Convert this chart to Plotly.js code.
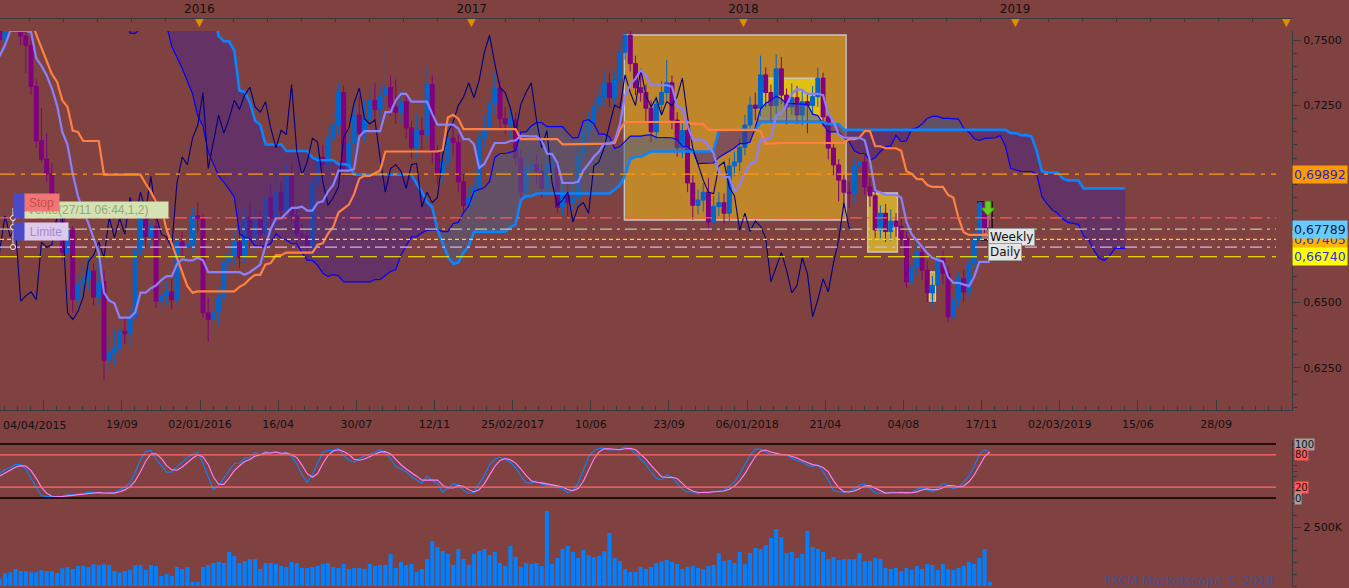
<!DOCTYPE html>
<html><head><meta charset="utf-8">
<script src="https://cdn.plot.ly/plotly-3.0.1.min.js"></script>
<style>html,body{margin:0;padding:0;background:#804141;}#chart{width:1349px;height:588px;}</style>
</head><body><div id="chart"></div>
<script>
// ---------- DATA (weekly NZD/USD candles, first week centre 2014-03-12) ----------
const firstWeek = '2014-03-12';
const openP = [
.845,.850,.856,.864,.868,.862,.860,.857,.859,.862,.865,.870,.856,.848,.852,.862,.870,.876,.880,.877,
.874,.853,.846,.849,.843,.835,.837,.829,.815,.812,.786,.780,.785,.794,.790,.779,.768,.784,.790,.786,
.780,.773,.778,.784,.779,.778,.781,.744,.727,.736,.742,.750,.752,.757,.737,.745,
.762,.750,.757,.766,.760,.7515,.748,.7323,.7116,.7046,
.699,.6881,.683,.669,.6775,.651,.657,.659,.662,.652,
.658,.628,.631,.6325,.639,.638,.6445,.670,.683,.675,
.679,.6505,.6525,.654,.651,.673,.671,.672,.683,.682,
.646,.6435,.6465,.652,.6655,.668,.673,.667,.6825,.6745,
.682,.676,.690,.682,.692,.685,.698,.683,.676,.675,
.671,.6955,.7054,.7025,.7126,.7176,.730,.701,.7107,.7214,
.7145,.720,.727,.7235,.729,.732,.7245,.7225,.7265,.7165,
.709,.7155,.714,.733,.7075,.6985,.7035,.7126,.711,.696,
.687,.690,.694,.713,.7165,.726,.7317,.720,.718,.7195,
.705,.692,.701,.7025,.700,.6935,.7025,.703,.6863,.692,
.688,.690,.706,.715,.7187,.725,.7283,.7336,.728,.7347,
.7453,.7518,.741,.7318,.730,.724,.715,.7255,.730,.7337,
.7195,.709,.7155,.6955,.687,.689,.692,.6806,.6865,.688,
.684,.702,.7035,.709,.7176,.7252,.724,.7367,.730,.725,
.739,.729,.7245,.728,.7214,.7265,.725,.7284,.7355,.7207,
.7088,.7024,.6966,.692,.6915,.702,.7035,.694,.6906,.6776,
.684,.677,.681,.679,.6745,.6578,.6635,.669,.6623,.6536,
.6565,.667,.661,.6445,.651,.659,.654,.665,.6738,.6879,.6784];
const highP = [
.853,.859,.867,.873,.871,.866,.864,.863,.866,.869,.874,.873,.859,.856,.866,.874,.880,.884,.884,.881,
.877,.857,.853,.853,.846,.841,.840,.832,.818,.815,.790,.789,.798,.800,.793,.782,.788,.794,.795,.790,
.783,.782,.788,.788,.783,.785,.784,.748,.741,.746,.754,.757,.762,.760,.750,.766,
.766,.760,.777,.770,.764,.756,.752,.735,.724,.7145,
.703,.692,.687,.681,.679,.661,.665,.667,.665,.668,
.662,.637,.640,.642,.644,.648,.672,.687,.686,.684,
.682,.657,.658,.659,.675,.677,.676,.686,.688,.684,
.652,.651,.656,.669,.672,.677,.678,.686,.688,.686,
.685,.694,.695,.701,.696,.703,.7025,.686,.680,.679,
.698,.709,.710,.7175,.7226,.7335,.7325,.7145,.7262,.7285,
.727,.7335,.7335,.733,.748,.7365,.735,.731,.729,.719,
.722,.7205,.7405,.7365,.710,.708,.718,.7185,.714,.699,
.694,.698,.716,.7215,.7295,.7375,.7345,.7245,.724,.7225,
.708,.7055,.7075,.7065,.703,.7065,.708,.706,.6955,.6955,
.694,.709,.7175,.7225,.728,.732,.738,.7375,.7385,.7485,
.7545,.7535,.744,.7375,.733,.727,.7285,.7345,.7425,.7365,
.7225,.7185,.7185,.6985,.693,.6955,.6975,.6905,.692,.6915,
.705,.7075,.7125,.7215,.7285,.730,.744,.7395,.733,.7445,
.7435,.7315,.7335,.7325,.7305,.7295,.7325,.7395,.7375,.722,
.711,.7045,.699,.696,.705,.709,.706,.6975,.6925,.687,
.6875,.6855,.684,.6825,.677,.6665,.6725,.6715,.6655,.660,
.670,.6695,.664,.654,.6615,.6625,.668,.677,.6885,.6885,.6815];
const lowP = [
.842,.847,.853,.860,.858,.855,.852,.853,.855,.858,.861,.852,.844,.844,.849,.859,.866,.872,.872,.869,
.850,.842,.842,.839,.831,.830,.825,.811,.806,.782,.776,.774,.781,.785,.775,.764,.765,.780,.782,.776,
.769,.768,.774,.775,.771,.773,.740,.723,.722,.731,.738,.745,.748,.730,.731,.742,
.747,.746,.754,.754,.748,.7374,.729,.709,.7033,.696,
.686,.680,.666,.664,.646,.648,.652,.655,.649,.649,
.6204,.6238,.626,.630,.634,.633,.642,.668,.671,.671,
.648,.646,.649,.6475,.649,.667,.666,.669,.677,.644,
.635,.638,.641,.649,.661,.664,.663,.665,.671,.669,
.672,.673,.678,.679,.681,.683,.680,.672,.670,.667,
.668,.693,.698,.700,.7095,.714,.698,.697,.706,.711,
.711,.717,.7195,.719,.725,.721,.718,.718,.7125,.705,
.705,.708,.711,.703,.695,.695,.700,.706,.692,.684,
.6855,.686,.6915,.709,.713,.722,.7165,.714,.713,.702,
.6895,.689,.696,.695,.690,.690,.698,.684,.683,.683,
.6845,.687,.703,.7115,.716,.7225,.725,.7245,.7245,.732,
.7425,.738,.729,.7265,.7185,.711,.712,.722,.727,.716,
.7055,.705,.692,.6815,.6835,.6845,.677,.677,.683,.680,
.681,.698,.700,.706,.7145,.7195,.721,.7245,.7185,.7215,
.7255,.718,.7215,.718,.7175,.7145,.7215,.7245,.717,.7045,
.6985,.6885,.686,.686,.6875,.6985,.691,.6865,.6745,.6745,
.673,.6735,.675,.671,.6555,.6545,.660,.6585,.650,.6485,
.6535,.657,.6424,.643,.648,.6505,.651,.6625,.672,.6765,.6765];
const closeP = [
.850,.856,.864,.868,.862,.860,.857,.859,.862,.865,.870,.856,.848,.852,.862,.870,.876,.880,.877,.874,
.853,.846,.849,.843,.835,.837,.829,.815,.812,.786,.780,.785,.794,.790,.779,.768,.784,.790,.786,.780,
.773,.778,.784,.779,.778,.781,.744,.727,.736,.742,.750,.752,.757,.737,.745,.762,
.750,.757,.766,.760,.7515,.748,.7323,.7116,.7046,.699,
.6881,.683,.669,.6775,.651,.657,.659,.662,.652,.658,
.628,.631,.6325,.639,.638,.6445,.670,.683,.675,.679,
.6505,.6525,.654,.651,.673,.671,.672,.683,.682,.646,
.6435,.6465,.652,.6655,.668,.673,.667,.6825,.6745,.682,
.676,.690,.682,.692,.685,.698,.683,.676,.675,.671,
.6955,.7054,.7025,.7126,.7176,.730,.701,.7107,.7214,.7145,
.720,.727,.7235,.729,.732,.7245,.7225,.7265,.7165,.709,
.7155,.714,.733,.7075,.6985,.7035,.7126,.711,.696,.687,
.690,.694,.713,.7165,.726,.7317,.720,.718,.7195,.705,
.692,.701,.7025,.700,.6935,.7025,.703,.6863,.692,.688,
.690,.706,.715,.7187,.725,.7283,.7336,.728,.7347,.7453,
.7518,.741,.7318,.730,.724,.715,.7255,.730,.7337,.7195,
.709,.7155,.6955,.687,.689,.692,.6806,.6865,.688,.684,
.702,.7035,.709,.7176,.7252,.724,.7367,.730,.725,.739,
.729,.7245,.728,.7214,.7265,.725,.7284,.7355,.7207,.7088,
.7024,.6966,.692,.6915,.702,.7035,.694,.6906,.6776,.684,
.677,.681,.679,.6745,.6578,.6635,.669,.6623,.6536,.6565,
.667,.661,.6445,.651,.659,.654,.665,.6738,.6879,.6784,.67789];
// weekly volume (thousands) from the week of 2015-04-08 onwards
const volumeK = [
326,538,581,721,636,636,581,581,664,636,
636,551,749,806,721,848,848,806,919,890,
919,890,636,581,636,678,890,890,678,890,
848,424,509,424,806,721,806,170,170,806,
890,975,1018,975,1442,1272,975,1060,1145,1145,
721,975,975,933,848,806,1018,975,763,763,
806,848,933,975,806,763,933,721,763,763,
721,933,848,890,890,1357,763,1018,890,933,
594,721,1145,1908,1654,1484,1357,890,1569,1145,
890,1357,1484,1569,1314,1442,975,848,1696,1230,
806,975,933,975,848,3180,933,1187,1569,1696,
1442,1187,1526,1314,1230,1272,1484,2247,1187,1060,
721,594,594,806,721,806,975,1060,1102,1018,
933,721,806,848,763,721,848,890,1399,1060,
1102,975,1442,933,1399,1611,1569,1738,2035,2417,
2078,1399,1442,1187,1357,2332,1654,1569,1442,1145,
1230,1102,1145,1145,1145,1399,1060,1060,1187,1145,
763,721,763,636,763,678,848,721,933,890,
678,933,721,678,763,848,1018,933,1187,1569,170];
const volumeStartIndex = 56;
// axis labels
const tickDates = ['2015-06-06','2015-09-19','2016-01-02','2016-04-16','2016-07-30','2016-11-12','2017-02-25','2017-06-10','2017-09-23','2018-01-06','2018-04-21','2018-08-04','2018-11-17','2019-03-02','2019-06-15','2019-09-28'];
const tickText  = ['','19/09','02/01/2016','16/04','30/07','12/11','25/02/2017','10/06','23/09','06/01/2018','21/04','04/08','17/11','02/03/2019','15/06','28/09'];
const firstDateLabel = '04/04/2015';
const yearDates = ['2016-01-01','2017-01-01','2018-01-01','2019-01-01'];
const yearText = ['2016','2017','2018','2019'];
const yearMarks = ['2016-01-01','2017-01-01','2018-01-01','2019-01-01','2020-01-01'];
const priceTickVals = [0.625, 0.65, 0.675, 0.70, 0.725, 0.75];
const priceTickText = ['0,6250', '0,6500', '', '', '0,7250', '0,7500'];
const volTickVals = [2500];
const volTickText = ['2 500K'];
// horizontal price levels
const levelValues = [0.69892, 0.6822, 0.67789, 0.67405, 0.6711, 0.6674];
const levelColors = ['#ff9a10','#ff5a5a','#bccaa2','#ffd21a','#d8b4e4','#ffff00'];
const levelDash   = ['15px,6px,4px,6px','12px,5px,3px,5px','12px,5px,3px,5px','4px,3px','12px,5px,3px,5px','17px,7px'];
const priceTags = [
  {v:0.67405, t:'0,67405', bg:'#ffb400', c:'#3030d0'},
  {v:0.67789, t:'0,67789', bg:'#66ccff', c:'#1a1a3a'},
  {v:0.69892, t:'0,69892', bg:'#ff9a00', c:'#2828c8'},
  {v:0.66740, t:'0,66740', bg:'#ffff00', c:'#3030e0'}];
// drawn boxes
const boxStart = ['2017-07-25','2018-01-23','2018-06-17','2018-09-08','2018-11-12'];
const boxEnd   = ['2018-05-19','2018-04-16','2018-07-27','2018-09-16','2018-12-01'];
const boxLow   = [0.6814, 0.7199, 0.6692, 0.6505, 0.6738];
const boxHigh  = [0.7519, 0.7355, 0.6917, 0.6616, 0.6883];
const boxFill  = ['#c0862a','#e0c010','#cda62e','#d4a82a','rgba(255,190,190,0.3)'];
const boxLine  = ['#c8c8c8','#c8c8c8','#c8c8c8','#d0d0d0','#000000'];

// ---------- derived ----------
const DAY = 86400000;
const t0 = Date.parse(firstWeek + 'T00:00:00Z');
const n = closeP.length, ext = n + 26;
const allDates = [];
for (let i = 0; i < ext; i++) allDates.push(new Date(t0 + i * 7 * DAY).toISOString().slice(0, 10));
const dates = allDates.slice(0, n);
function hh(a, i, p) { let m = -Infinity; for (let j = i - p + 1; j <= i; j++) m = Math.max(m, a[j]); return m; }
function ll(a, i, p) { let m = Infinity; for (let j = i - p + 1; j <= i; j++) m = Math.min(m, a[j]); return m; }
const tenkan = dates.map((_, i) => i >= 8 ? (hh(highP, i, 9) + ll(lowP, i, 9)) / 2 : null);
const kijun = dates.map((_, i) => i >= 25 ? (hh(highP, i, 26) + ll(lowP, i, 26)) / 2 : null);
const spanA = new Array(ext).fill(null), spanB = new Array(ext).fill(null);
for (let i = 0; i < n; i++) {
  if (i >= 25) spanA[i + 26] = (tenkan[i] + kijun[i]) / 2;
  if (i >= 51) spanB[i + 26] = (hh(highP, i, 52) + ll(lowP, i, 52)) / 2;
}
const chikou = new Array(n).fill(null);
for (let i = 26; i < n; i++) chikou[i - 26] = closeP[i];
const c0 = 77;
const cx = allDates.slice(c0), cA = spanA.slice(c0), cB = spanB.slice(c0);
const cLo = cA.map((a, i) => Math.min(a, cB[i]));
// candle bodies (drawn as bars so they get the reference's width)
const upX = [], upBase = [], upH = [], dnX = [], dnBase = [], dnH = [];
for (let i = 0; i < n; i++) {
  if (closeP[i] >= openP[i]) { upX.push(dates[i]); upBase.push(openP[i]); upH.push(Math.max(closeP[i] - openP[i], 0.0003)); }
  else { dnX.push(dates[i]); dnBase.push(closeP[i]); dnH.push(openP[i] - closeP[i]); }
}
// stochastic 14,3,3
const raw = dates.map((_, i) => i >= 13 ? 100 * (closeP[i] - ll(lowP, i, 14)) / (hh(highP, i, 14) - ll(lowP, i, 14)) : null);
const sma3 = a => a.map((v, i) => (i >= 2 && a[i] != null && a[i-1] != null && a[i-2] != null) ? (a[i] + a[i-1] + a[i-2]) / 3 : null);
const stK = sma3(raw), stD = sma3(stK);
const visDates = dates.slice(volumeStartIndex);

// ---------- layout helpers ----------
const W = 1349, H = 588;
const px = x => x / W, py = y => 1 - y / H;
const BG = '#804141';
const xRange = ['2015-04-08 07:00', '2020-01-08'];
const bodyW = 5.2 * DAY;

const traces = [
  {type:'scatter', x:cx, y:cLo, mode:'lines', line:{width:0, color:'rgba(0,0,0,0)'}, xaxis:'x', yaxis:'y'},
  {type:'scatter', x:cx, y:cA, mode:'lines', line:{width:0, color:'rgba(0,0,0,0)'}, fill:'tonexty', fillcolor:'rgba(77,92,129,0.55)', xaxis:'x', yaxis:'y'},
  {type:'scatter', x:cx, y:cLo, mode:'lines', line:{width:0, color:'rgba(0,0,0,0)'}, xaxis:'x', yaxis:'y'},
  {type:'scatter', x:cx, y:cB, mode:'lines', line:{width:0, color:'rgba(0,0,0,0)'}, fill:'tonexty', fillcolor:'rgba(77,38,129,0.55)', xaxis:'x', yaxis:'y'},
  {type:'candlestick', x:dates, open:openP, high:highP, low:lowP, close:closeP, xaxis:'x', yaxis:'y',
   increasing:{line:{color:'#0066cc', width:1}, fillcolor:'#0066cc'},
   decreasing:{line:{color:'#800080', width:1}, fillcolor:'#800080'}, whiskerwidth:0},
  {type:'bar', x:upX, base:upBase, y:upH, width:bodyW, marker:{color:'#0066cc', line:{width:0}}, xaxis:'x', yaxis:'y'},
  {type:'bar', x:dnX, base:dnBase, y:dnH, width:bodyW, marker:{color:'#800080', line:{width:0}}, xaxis:'x', yaxis:'y'},
  {type:'scatter', x:allDates, y:spanA, mode:'lines', line:{color:'#0000ff', width:1.2}, xaxis:'x', yaxis:'y'},
  {type:'scatter', x:allDates, y:spanB, mode:'lines', line:{color:'#0a84ff', width:2.6}, xaxis:'x', yaxis:'y'},
  {type:'scatter', x:dates, y:chikou, mode:'lines', line:{color:'#000080', width:1.1}, xaxis:'x', yaxis:'y'},
  {type:'scatter', x:dates, y:kijun, mode:'lines', line:{color:'#ff8040', width:2.2}, xaxis:'x', yaxis:'y'},
  {type:'scatter', x:dates, y:tenkan, mode:'lines', line:{color:'#8a80ff', width:2.2}, xaxis:'x', yaxis:'y'},
  {type:'scatter', x:visDates, y:stK.slice(volumeStartIndex), mode:'lines', line:{color:'#0a84ff', width:1.1}, xaxis:'x', yaxis:'y2'},
  {type:'scatter', x:visDates, y:stD.slice(volumeStartIndex), mode:'lines', line:{color:'#ff80ff', width:1.1}, xaxis:'x', yaxis:'y2'},
  {type:'bar', x:visDates, y:volumeK, marker:{color:'#0080ff', line:{width:0}}, width:5.4 * DAY, xaxis:'x', yaxis:'y3'},
  {type:'scatter', x:['2017-01-01'], y:[0], mode:'markers', marker:{opacity:0}, xaxis:'x2', yaxis:'y'}
];

const shapes = [];
for (let i = 0; i < boxStart.length; i++) {
  shapes.push({type:'rect', xref:'x', yref:'y', x0:boxStart[i], x1:boxEnd[i], y0:boxLow[i], y1:boxHigh[i],
    fillcolor:boxFill[i], line:{color:boxLine[i], width:1.3}, layer:'below'});
}
for (let i = 0; i < levelValues.length; i++) {
  shapes.push({type:'line', xref:'paper', yref:'y', x0:0, x1:px(1276), y0:levelValues[i], y1:levelValues[i],
    line:{color:levelColors[i], width:1.2, dash:levelDash[i]}, layer:'above'});
}
[[100,'#000000',1.6],[0,'#000000',1.6],[80,'#ff6a6a',1.2],[20,'#ff6a6a',1.2]].forEach(s => {
  shapes.push({type:'line', xref:'paper', yref:'y2', x0:0, x1:px(1276), y0:s[0], y1:s[0], line:{color:s[1], width:s[2]}});
});
// order markers on the left
shapes.push({type:'line', xref:'paper', yref:'paper', x0:px(13), x1:px(13), y0:py(208), y1:py(247), line:{color:'#e6e6e6', width:1}});
[218, 227, 247].forEach(y => shapes.push({type:'circle', xref:'paper', yref:'paper', x0:px(10.5), x1:px(15.5), y0:py(y + 2.5), y1:py(y - 2.5), line:{color:'#f0f0f0', width:1}, fillcolor:BG}));
// green arrow
const ap = [[985,201],[991,201],[991,208],[995,208],[988,216],[981,208],[985,208]];
shapes.push({type:'path', xref:'paper', yref:'paper', path:'M' + ap.map(p => px(p[0]) + ',' + py(p[1])).join(' L') + ' Z',
  fillcolor:'#66cc22', line:{color:'#3a8a10', width:1}});

const annotations = [];
yearMarks.forEach(d => annotations.push({xref:'x', yref:'paper', x:d, y:py(22), text:'▼', showarrow:false,
  font:{size:11, color:'#e08a00'}, xanchor:'center', yanchor:'middle'}));
annotations.push({xref:'paper', yref:'paper', x:px(1), y:py(425), text:firstDateLabel, showarrow:false, xanchor:'left', yanchor:'middle', font:{size:11, color:'#111'}});
priceTags.forEach(p => annotations.push({xref:'paper', yref:'y', x:px(1292), y:p.v, text:p.t, showarrow:false, xanchor:'left', yanchor:'middle',
  bgcolor:p.bg, borderpad:1, font:{size:12.5, color:p.c, family:'DejaVu Sans, sans-serif'}}));
[[100,'100','#a0a0a0'],[80,'80','#ff5a5a'],[20,'20','#ff5a5a'],[0,'0','#a0a0a0']].forEach(s =>
  annotations.push({xref:'paper', yref:'y2', x:px(1294), y:s[0], text:s[1], showarrow:false, xanchor:'left', yanchor:'middle',
    bgcolor:s[2], borderpad:0, font:{size:10, color:'#111'}}));
function box(x0, y0, x1, y1, bg, text, color, align) {
  annotations.push({xref:'paper', yref:'paper', x:px(x0), y:py(y0), xanchor:'left', yanchor:'top', width:x1 - x0, height:y1 - y0,
    text:text, showarrow:false, bgcolor:bg, borderpad:0, align:align || 'center', valign:'middle',
    font:{size:12, color:color, family:'Liberation Sans, Arial, sans-serif'}});
}
box(23, 201, 167, 217, '#d4e2b4', '&nbsp;Vente(27/11 06:44,1,2)', '#94a878', 'left');
box(13, 201, 23, 217, '#4a4ac8', '', '#fff');
box(23, 193, 58, 210, '#f07575', 'Stop', '#c84a4a');
box(13, 193, 23, 210, '#4a4ac8', '', '#fff');
box(23, 222, 67, 239, '#dccaec', 'Limite', '#a888cc');
box(13, 222, 23, 239, '#4a4ac8', '', '#fff');
annotations.push({xref:'paper', yref:'paper', x:px(988), y:py(237), text:'Weekly', showarrow:false, xanchor:'left', yanchor:'middle',
  bgcolor:'#e4e4e4', bordercolor:'#9a9a9a', borderwidth:1, borderpad:1, font:{size:12, color:'#111'}});
annotations.push({xref:'paper', yref:'paper', x:px(988), y:py(252), text:'Daily', showarrow:false, xanchor:'left', yanchor:'middle',
  bgcolor:'#e4e4e4', bordercolor:'#9a9a9a', borderwidth:1, borderpad:1, font:{size:12, color:'#111'}});
annotations.push({xref:'paper', yref:'paper', x:px(1276), y:py(580), text:'FXCM Marketscope © 2018', showarrow:false, xanchor:'right', yanchor:'middle',
  font:{size:12.5, color:'#4e4e8a'}});

const axCol = '#3a3a3a';
const layout = {
  width:W, height:H, margin:{l:0, r:0, t:0, b:0}, paper_bgcolor:BG, plot_bgcolor:BG,
  showlegend:false, hovermode:false, barmode:'overlay', boxgap:0.25, boxgroupgap:0,
  font:{family:'DejaVu Sans, Verdana, sans-serif', size:11, color:'#111'},
  xaxis:{type:'date', domain:[0, px(1292)], range:xRange, anchor:'y', rangeslider:{visible:false},
    tickmode:'array', tickvals:tickDates, ticktext:tickText, ticks:'inside', ticklen:10, tickcolor:axCol, ticklabelstandoff:4,
    showline:true, linecolor:axCol, linewidth:1, showgrid:false, zeroline:false, tickfont:{size:11, color:'#111'},
    minor:{dtick:17.5 * DAY, tick0:'2016-01-02', ticks:'inside', ticklen:4, tickcolor:axCol, showgrid:false}},
  xaxis2:{type:'date', overlaying:'x', side:'top', anchor:'free', position:py(18), range:xRange,
    tickmode:'array', tickvals:yearDates, ticktext:yearText, ticks:'inside', ticklen:4, tickcolor:axCol,
    showline:true, linecolor:axCol, linewidth:1, showgrid:false, zeroline:false, tickfont:{size:12, color:'#111'},
    minor:{dtick:365.25 / 8 * DAY, tick0:'2016-01-01', ticks:'inside', ticklen:3, tickcolor:axCol, showgrid:false}},
  yaxis:{domain:[py(410), py(31)], range:[0.60899, 0.75343], side:'right', anchor:'x', tickmode:'array', tickvals:priceTickVals, ticktext:priceTickText,
    ticks:'outside', ticklen:8, tickcolor:axCol, showline:true, linecolor:axCol, showgrid:false, zeroline:false,
    tickfont:{size:11, color:'#111'}, minor:{dtick:0.005, ticks:'outside', ticklen:4, tickcolor:axCol, showgrid:false}},
  yaxis2:{domain:[py(500), py(440)], range:[-3.7, 107.4], side:'right', anchor:'x', showticklabels:false, tick0:0, dtick:10,
    ticks:'outside', ticklen:4, tickcolor:axCol, showline:true, linecolor:axCol, showgrid:false, zeroline:false},
  yaxis3:{domain:[py(586), py(502)], range:[0, 3560], side:'right', anchor:'x', tickmode:'array', tickvals:volTickVals, ticktext:volTickText,
    ticks:'outside', ticklen:8, tickcolor:axCol, showline:true, linecolor:axCol, showgrid:false, zeroline:false,
    tickfont:{size:11, color:'#111'}, minor:{dtick:500, ticks:'outside', ticklen:4, tickcolor:axCol, showgrid:false}},
  shapes:shapes, annotations:annotations
};
Plotly.newPlot('chart', traces, layout, {staticPlot:true, displayModeBar:false});
</script></body></html>
